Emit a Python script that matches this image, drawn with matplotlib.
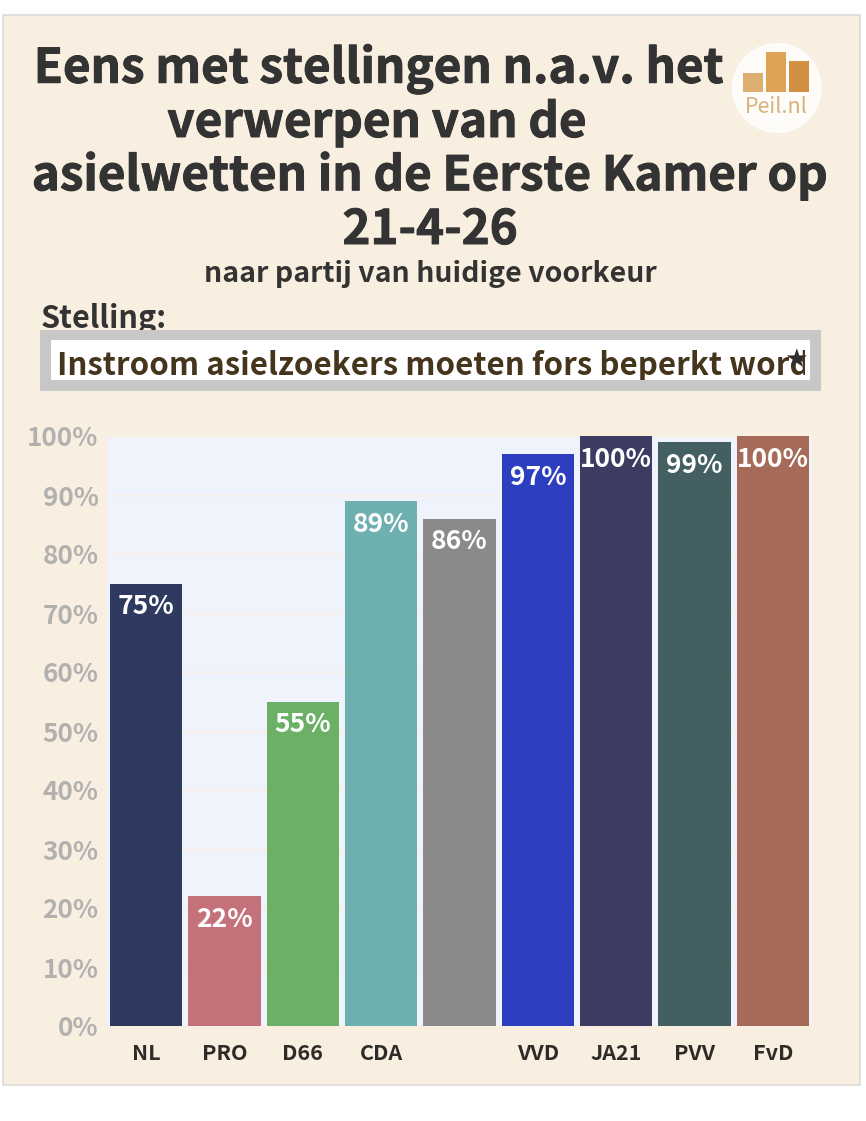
import matplotlib
matplotlib.use("Agg")
import matplotlib.pyplot as plt
import matplotlib.patheffects as pe
from matplotlib.patches import Rectangle, Circle

plt.rcParams['font.family'] = ['Noto Sans CJK SC', 'DejaVu Sans']

W, H = 866, 1121
my_dpi = 100

parties = ["NL", "PRO", "D66", "CDA", "", "VVD", "JA21", "PVV", "FvD"]
values = [75, 22, 55, 89, 86, 97, 100, 99, 100]
colors = ["#2e3a5f", "#c4717a", "#6cb066", "#6eafaf", "#8a8a8a",
          "#2d3ebf", "#3c3c62", "#445f62", "#a66a58"]
yticks = list(range(0, 101, 10))

title_lines = ["Eens met stellingen n.a.v. het", "verwerpen van de",
               "asielwetten in de Eerste Kamer op", "21-4-26"]
title_pos = [(379, 69), (377, 123), (430, 176), (430, 230)]
subtitle = "naar partij van huidige voorkeur"
select_label = "Stelling:"
select_value = "Instroom asielzoekers moeten fors beperkt worden"
logo_heights = [19, 40, 31]
logo_colors = ["#dcae70", "#dfa255", "#d18f42"]

# the reference text is a bit blurred and heavier than plain bold
heavy = [pe.withStroke(linewidth=0.7, foreground="#333333")]

fig = plt.figure(figsize=(W / my_dpi, H / my_dpi), dpi=my_dpi, facecolor="white")

# page layer in pixel coordinates
bg = fig.add_axes([0, 0, 1, 1])
bg.set_xlim(0, W)
bg.set_ylim(H, 0)
bg.axis("off")
bg.add_patch(Rectangle((3, 15), 857, 1070, fc="#f9efe1", ec="#dcdad6", lw=1.2))

for line, (x, y) in zip(title_lines, title_pos):
    bg.text(x, y, line, ha="center", va="center", fontsize=34.2, fontweight="bold",
            color="#333333", path_effects=heavy)
bg.text(430, 274, subtitle, ha="center", va="center", fontsize=20.5,
        fontweight="bold", color="#333333")

# logo
bg.add_patch(Circle((777, 88), 45, fc="#fefcf9", ec="none"))
for x, h, c in zip([743, 766, 789], logo_heights, logo_colors):
    bg.add_patch(Rectangle((x, 92 - h), 20, h, fc=c, ec="none"))
bg.text(776, 107, "Peil.nl", ha="center", va="center", fontsize=15.5,
        fontweight="light", color="#d8b27c")

# dropdown
bg.text(41, 319, select_label, ha="left", va="center", fontsize=22,
        fontweight="bold", color="#333333")
bg.add_patch(Rectangle((40, 330), 781, 61, fc="#c8c7c8", ec="none", zorder=3))
bg.add_patch(Rectangle((51, 340), 759, 40, fc="white", ec="none", zorder=4))
sel = bg.text(57, 366, select_value, ha="left", va="center", fontsize=22.5,
              fontweight="bold", color="#46351d", zorder=5, clip_on=True)
sel.set_clip_path(Rectangle((51, 340), 754, 40, transform=bg.transData))
bg.text(796, 360, "\u2605", ha="center", va="center", fontsize=19, color="#2e2e2e",
        zorder=6, family=["DejaVu Sans"])

# chart
left, right, top, bottom = 107, 812, 436, 1026
ax = fig.add_axes([left / W, 1 - bottom / H, (right - left) / W, (bottom - top) / H])
ax.set_facecolor("#eff4fc")
ax.bar(range(len(values)), values, width=0.92, color=colors, zorder=3)
ax.set_xlim(-0.5, len(values) - 0.5)
ax.set_ylim(0, 100)
ax.set_yticks(yticks)
ax.set_yticklabels(["%d%%" % v for v in yticks], fontsize=18.8, fontweight="bold",
                   color="#b3b1b0")
ax.set_xticks(range(len(parties)))
ax.set_xticklabels(parties, fontsize=15.5, fontweight="bold", color="#2e2b28")
ax.tick_params(axis="y", length=0, pad=6)
ax.tick_params(axis="x", length=0, pad=12)
ax.grid(axis="y", color="#f6f0ee", lw=2, zorder=1)
for s in ax.spines.values():
    s.set_visible(False)

for i, v in enumerate(values):
    ax.annotate("%d%%" % v, (i, v), xytext=(0, -16.8), textcoords="offset points",
                ha="center", va="center", fontsize=19, fontweight="bold",
                color="white", zorder=4, annotation_clip=False)

fig.savefig("out.png", dpi=my_dpi)
